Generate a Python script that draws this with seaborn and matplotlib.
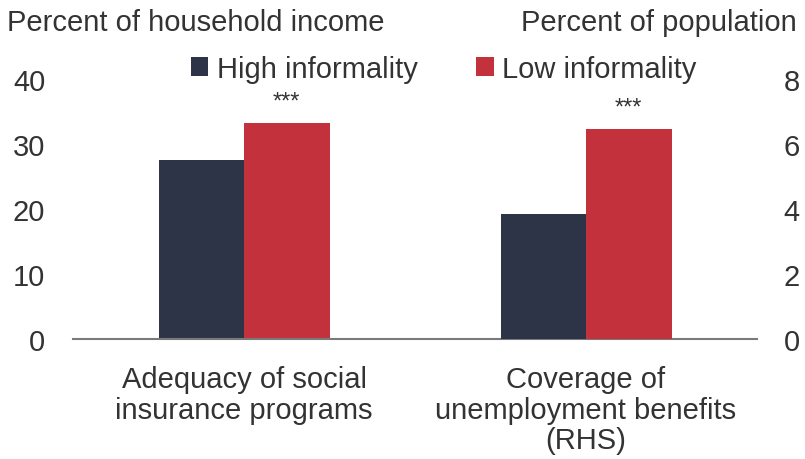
import pandas as pd
import matplotlib.pyplot as plt
import seaborn as sns

# Values
categories = ["Adequacy of social\ninsurance programs",
              "Coverage of\nunemployment benefits\n(RHS)"]
groups = ["High informality", "Low informality"]
adequacy = [27.6, 33.3]      # percent of household income (LHS)
coverage = [3.85, 6.45]      # percent of population (RHS)
stars = ["***", "***"]

left_df = pd.DataFrame({"cat": categories[0], "group": groups, "value": adequacy})
right_df = pd.DataFrame({"cat": categories[1], "group": groups, "value": coverage})

palette = {"High informality": "#2d3447", "Low informality": "#c3313c"}

sns.set_theme(style="white")
plt.rcParams["font.family"] = ["Liberation Sans", "DejaVu Sans"]
text_col = "#333333"
fs = 21

fig = plt.figure(figsize=(8.05, 4.6), dpi=100)
ax = fig.add_axes([0.0907, 0.2609, 0.8497, 0.5652])
ax2 = ax.twinx()

sns.barplot(data=left_df, x="cat", y="value", hue="group", order=categories,
            hue_order=groups, palette=palette, width=0.5, saturation=1,
            linewidth=0, ax=ax)
sns.barplot(data=right_df, x="cat", y="value", hue="group", order=categories,
            hue_order=groups, palette=palette, width=0.5, saturation=1,
            linewidth=0, legend=False, ax=ax2)

ax.set_ylim(0, 40)
ax.set_yticks([0, 10, 20, 30, 40])
ax2.set_ylim(0, 8)
ax2.set_yticks([0, 2, 4, 6, 8])
ax.set_xlabel("")
ax.set_ylabel("")
ax2.set_ylabel("")

for a in (ax, ax2):
    for s in ["top", "left", "right"]:
        a.spines[s].set_visible(False)
    a.spines["bottom"].set_color("#7a7a7a")
    a.spines["bottom"].set_linewidth(1.5)
    a.tick_params(axis="both", length=0, labelsize=fs, colors=text_col)
ax2.spines["bottom"].set_visible(False)
ax.tick_params(axis="y", pad=20)
ax2.tick_params(axis="y", pad=19)
ax.tick_params(axis="x", pad=19)
ax.set_xticks(range(len(categories)))
ax.set_xticklabels(categories, linespacing=1.1)

# significance stars over the low-informality bars
low_left = ax.containers[1][0]
ax.text(low_left.get_x() + low_left.get_width() / 2, low_left.get_height() + 1.6,
        stars[0], ha="center", va="bottom", fontsize=17, color=text_col)
low_right = ax2.containers[1][0]
ax2.text(low_right.get_x() + low_right.get_width() / 2, low_right.get_height() + 0.32,
         stars[1], ha="center", va="bottom", fontsize=17, color=text_col)

fig.text(0.009, 0.95, "Percent of household income", ha="left", va="center",
         fontsize=fs, color=text_col)
fig.text(0.99, 0.95, "Percent of population", ha="right", va="center",
         fontsize=fs, color=text_col)

sns.move_legend(ax, "center", bbox_to_anchor=(0.542, 1.04), ncol=2, title=None,
                frameon=False, fontsize=fs, handlelength=0.6, handleheight=0.6,
                handletextpad=0.3, columnspacing=2.0, labelcolor=text_col)

fig.savefig("out.png", dpi=100, facecolor="white")
